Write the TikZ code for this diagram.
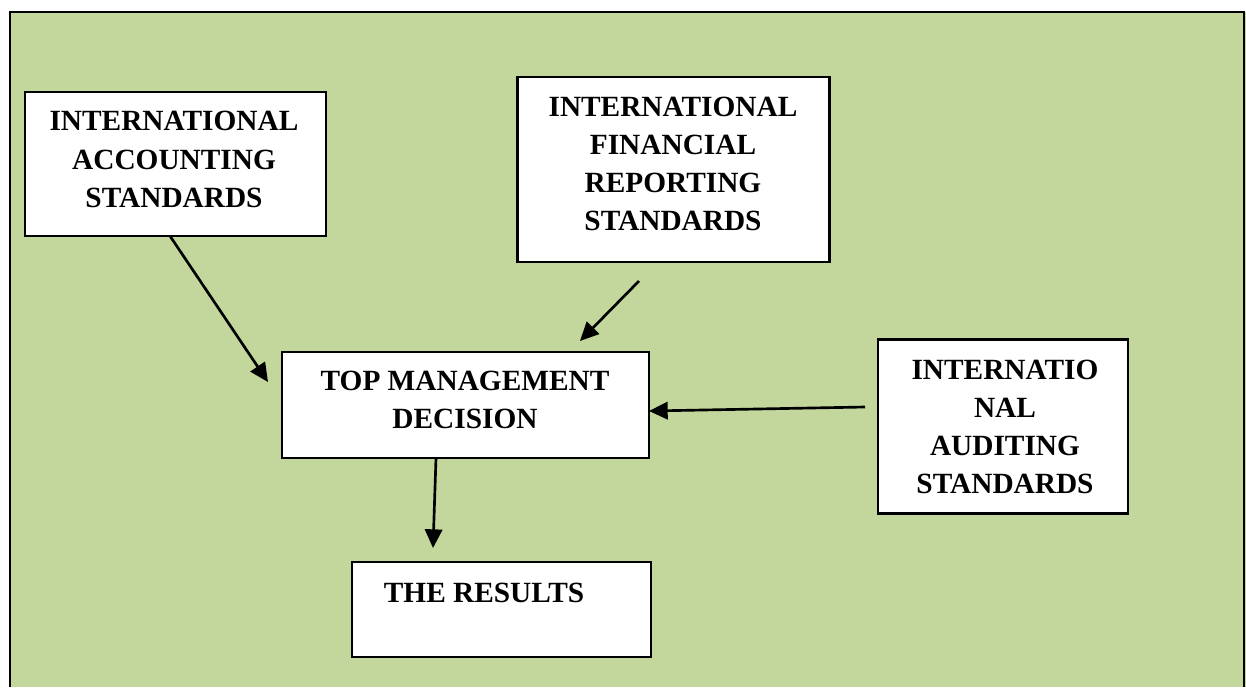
\documentclass[tikz,border=0pt]{standalone}
\usepackage{fontspec}
\setmainfont{Liberation Serif}
\usetikzlibrary{arrows.meta}
\definecolor{bggreen}{HTML}{C3D69B}
\begin{document}
\begin{tikzpicture}[x=0.75pt,y=-0.75pt,
  box/.style={draw=black,line width=1.7pt,fill=white,rectangle,inner sep=0pt},
  lbl/.style={inner sep=0pt,align=center,font=\fontsize{22pt}{28.6pt}\selectfont\bfseries},
  arr/.style={line width=2pt,-{Triangle[length=14pt,width=13pt]}}]
\useasboundingbox (0,0) rectangle (1246,687);
\fill[bggreen] (10,12) rectangle (1246,687);
\draw[line width=2pt] (10,687) -- (10,12) -- (1244,12) -- (1244,687);
% boxes
\node[box,minimum width=301pt*0.75,minimum height=144pt*0.75] (ias) at (175.5,164) {};
\node[box,minimum width=312pt*0.75,minimum height=185pt*0.75] (ifrs) at (673.5,169.5) {};
\node[box,minimum width=367pt*0.75,minimum height=106pt*0.75] (tmd) at (465.5,405) {};
\node[box,minimum width=250pt*0.75,minimum height=174pt*0.75] (iaus) at (1003,426.5) {};
\node[box,minimum width=299pt*0.75,minimum height=95pt*0.75] (res) at (501.5,609.5) {};
% texts
\node[lbl] (iasT) at (174,159.5) {INTERNATIONAL\\ACCOUNTING\\STANDARDS};
\node[lbl] (ifrsT) at (673,164) {INTERNATIONAL\\FINANCIAL\\REPORTING\\STANDARDS};
\node[lbl] (tmdT) at (465,400) {TOP MANAGEMENT\\DECISION};
\node[lbl] (iausT) at (1005,427) {INTERNATIO\\NAL\\AUDITING\\STANDARDS};
\node[lbl] (resT) at (484,593) {THE RESULTS};
% connector end points
\coordinate (a1) at (170,236);
\coordinate (a2) at (268,382);
\coordinate (b1) at (639,281);
\coordinate (b2) at (580,341);
\coordinate (c1) at (865,407);
\coordinate (c2) at (649,411);
\coordinate (d1) at (436,458);
\coordinate (d2) at (433,548);
\draw[arr] (a1) -- (a2);
\draw[arr] (b1) -- (b2);
\draw[arr] (c1) -- (c2);
\draw[arr] (d1) -- (d2);
\end{tikzpicture}
\end{document}
